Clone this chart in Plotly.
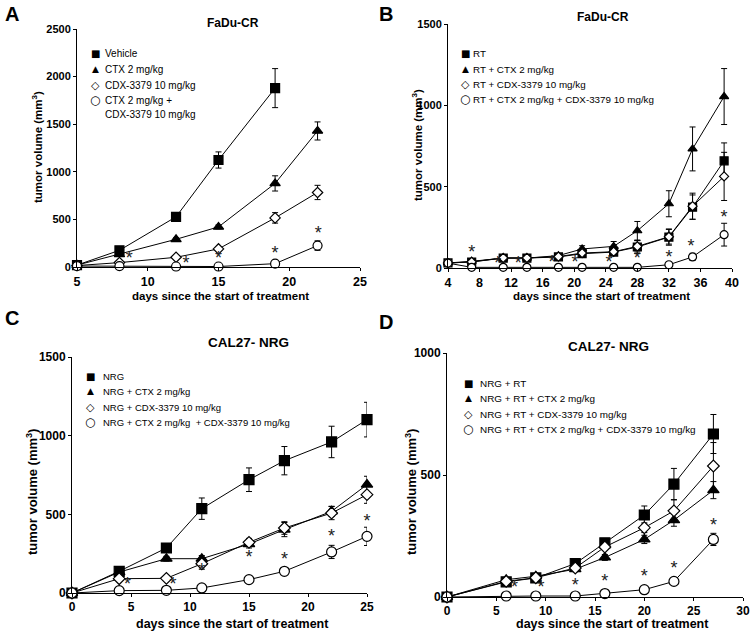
import plotly.graph_objects as go

W, H = 750, 634

# ---------------- data ----------------
A_days = [5, 8, 12, 15, 19, 22]
A_names = ["Vehicle", "CTX 2 mg/kg", "CDX-3379 10 mg/kg", "CTX 2 mg/kg +<br>CDX-3379 10 mg/kg"]
A_vehicle = [20, 175, 527, 1124, 1879]
A_vehicle_err = [5, 15, 20, 85, 205]
A_ctx = [20, 133, 291, 421, 878, 1429]
A_ctx_err = [5, 10, 15, 20, 80, 95]
A_cdx = [15, 46, 102, 190, 516, 783]
A_cdx_err = [3, 8, 10, 15, 55, 75]
A_combo = [10, 10, 5, 5, 35, 225]
A_combo_err = [2, 3, 2, 2, 8, 50]
A_star_x = [8.7, 12.7, 15.0, 19.0, 22.05]
A_star_y = [80, 30, 80, 135, 345]

B_days = [4, 7, 11, 14, 18, 21, 25, 28, 32, 35, 39]
B_names = ["RT", "RT + CTX 2 mg/kg", "RT + CDX-3379 10 mg/kg", "RT + CTX 2 mg/kg + CDX-3379 10 mg/kg"]
B_rt = [31, 37, 61, 61, 68, 88, 98, 129, 190, 374, 659]
B_rt_err = [5, 5, 5, 5, 8, 10, 12, 40, 50, 75, 110]
B_ctx = [31, 41, 61, 61, 76, 117, 133, 229, 395, 732, 1054]
B_ctx_err = [5, 5, 5, 5, 8, 20, 30, 57, 80, 135, 172]
B_cdx = [30, 38, 62, 62, 70, 92, 100, 133, 192, 380, 563]
B_cdx_err = [5, 5, 5, 5, 8, 10, 12, 35, 45, 80, 148]
B_combo = [30, 4, 4, 4, 4, 4, 4, 4, 20, 68, 205]
B_combo_err = [3, 2, 2, 2, 2, 2, 2, 2, 5, 22, 70]
B_star_x = [7, 10.3, 12.9, 17.2, 20.1, 24.4, 28, 32, 34.8, 39]
B_star_y = [92, 20, 20, 25, 25, 30, 51, 61, 123, 307]

C_days = [0, 4, 8, 11, 15, 18, 22, 25]
C_names = ["NRG", "NRG + CTX 2 mg/kg", "NRG + CDX-3379 10 mg/kg", "NRG + CTX 2 mg/kg  + CDX-3379 10 mg/kg"]
C_nrg = [0, 138, 286, 536, 720, 841, 960, 1102]
C_nrg_err = [0, 15, 25, 68, 75, 90, 100, 110]
C_ctx = [0, 133, 218, 218, 311, 403, 519, 689]
C_ctx_err = [0, 10, 15, 20, 25, 45, 32, 53]
C_cdx = [0, 91, 93, 186, 322, 413, 508, 625]
C_cdx_err = [0, 8, 10, 35, 25, 40, 42, 55]
C_combo = [0, 15, 17, 32, 85, 138, 261, 360]
C_combo_err = [0, 3, 3, 5, 8, 10, 42, 58]
C_star_x = [4.7, 8.56, 11, 15, 18, 22, 25]
C_star_y = [47, 47, 138, 218, 208, 350, 449]

D_days = [0, 6, 9, 13, 16, 20, 23, 27]
D_names = ["NRG + RT", "NRG + RT + CTX 2 mg/kg", "NRG + RT + CDX-3379 10 mg/kg",
           "NRG + RT + CTX 2 mg/kg + CDX-3379 10 mg/kg"]
D_rt = [0, 62, 78, 137, 222, 336, 463, 668]
D_rt_err = [0, 5, 8, 10, 15, 37, 64, 80]
D_ctx = [0, 71, 85, 114, 162, 236, 315, 438]
D_ctx_err = [0, 5, 8, 10, 12, 17, 25, 35]
D_cdx = [0, 64, 79, 119, 205, 284, 353, 537]
D_cdx_err = [0, 5, 8, 10, 12, 20, 45, 96]
D_combo = [0, 4, 4, 4, 14, 30, 64, 236]
D_combo_err = [0, 2, 2, 2, 3, 5, 8, 25]
D_star_x = [6.83, 9.54, 13, 16, 20, 23, 27]
D_star_y = [34, 34, 45, 58, 78, 112, 288]

X_TITLE = "days since the start of treatment"
Y_TITLE = "tumor volume (mm<sup>3</sup>)"

panels = [
    dict(letter="A", title="FaDu-CR", names=A_names,
         series=[(A_days[:len(A_vehicle)], A_vehicle, A_vehicle_err), (A_days, A_ctx, A_ctx_err),
                 (A_days, A_cdx, A_cdx_err), (A_days, A_combo, A_combo_err)],
         stars=(A_star_x, A_star_y), xr=[5, 25], xd=5, yr=[0, 2500], yd=500,
         box=(77, 360, 29, 267), big=False,
         title_pos=(233, 23), letter_pos=(3, 14), xt_pos=(220, 296), yt_pos=(37, 147),
         leg=dict(mx=95, tx=103, ys=[53, 69, 85, 100], fs=10)),
    dict(letter="B", title="FaDu-CR", names=B_names,
         series=[(B_days, B_rt, B_rt_err), (B_days, B_ctx, B_ctx_err),
                 (B_days, B_cdx, B_cdx_err), (B_days, B_combo, B_combo_err)],
         stars=(B_star_x, B_star_y), xr=[4, 40], xd=4, yr=[0, 1500], yd=500,
         box=(448, 732, 24, 268), big=False,
         title_pos=(603, 17), letter_pos=(377, 14), xt_pos=(601, 296), yt_pos=(417, 145),
         leg=dict(mx=465, tx=471, ys=[53, 69, 84, 99], fs=9.8)),
    dict(letter="C", title="CAL27- NRG", names=C_names,
         series=[(C_days, C_nrg, C_nrg_err), (C_days, C_ctx, C_ctx_err),
                 (C_days, C_cdx, C_cdx_err), (C_days, C_combo, C_combo_err)],
         stars=(C_star_x, C_star_y), xr=[0, 25], xd=5, yr=[0, 1500], yd=500,
         box=(72, 367, 357, 593), big=True,
         title_pos=(248, 342), letter_pos=(3, 318), xt_pos=(232, 624), yt_pos=(32, 492),
         leg=dict(mx=90, tx=101, ys=[376, 391, 407, 422], fs=9.5)),
    dict(letter="D", title="CAL27- NRG", names=D_names,
         series=[(D_days, D_rt, D_rt_err), (D_days, D_ctx, D_ctx_err),
                 (D_days, D_cdx, D_cdx_err), (D_days, D_combo, D_combo_err)],
         stars=(D_star_x, D_star_y), xr=[0, 30], xd=5, yr=[0, 1000], yd=500,
         box=(447, 743, 353, 597), big=True,
         title_pos=(608, 346), letter_pos=(377, 322), xt_pos=(612, 624), yt_pos=(411, 492),
         leg=dict(mx=468, tx=478, ys=[383, 398, 414, 429], fs=9.9)),
]

symbols = ["square", "triangle-up", "diamond", "circle"]
fills = ["black", "black", "white", "white"]
glyphs = ["\u25A0", "\u25B2", "\u25C7", "\u25CB"]
glyph_sizes = [10, 9, 11, 12]
FONT = "Liberation Sans, Arial, sans-serif"


def fx(x):
    return x / W


def fy(y):
    return 1 - y / H


fig = go.Figure()
layout = dict(width=W, height=H, margin=dict(l=0, r=0, t=0, b=0),
              paper_bgcolor="white", plot_bgcolor="white", showlegend=False,
              font=dict(family=FONT, color="black"))
annotations = []


def px_ann(text, x, y, size, weight="normal", xanchor="center", angle=0, family=FONT, color="black"):
    return dict(text=text, x=fx(x), y=fy(y), xref="paper", yref="paper", showarrow=False,
                xanchor=xanchor, yanchor="middle", textangle=angle,
                font=dict(family=family, size=size, weight=weight, color=color))


for i, p in enumerate(panels):
    k = i + 1
    xa = "x" if k == 1 else f"x{k}"
    ya = "y" if k == 1 else f"y{k}"
    x0, x1, y0, y1 = p["box"]
    big = p["big"]
    xtick_f = 12 if big else 12.5
    ytick_f = 12 if big else 11
    title_f = 12.5 if big else 11.5
    msz = 10 if big else 9
    if k == 2:
        msz = 8
    for j, (xs, ys, es) in enumerate(p["series"]):
        fig.add_trace(go.Scatter(
            x=xs, y=ys, name=p["names"][j], mode="lines+markers",
            xaxis=xa, yaxis=ya, cliponaxis=False,
            line=dict(color="black", width=1),
            marker=dict(symbol=symbols[j], size=msz if j != 2 else msz - 1, color=fills[j],
                        line=dict(color="black", width=1.2)),
            error_y=dict(type="data", array=es, visible=True, color="black",
                         thickness=1, width=3),
        ))
    sx, sy = p["stars"]
    fig.add_trace(go.Scatter(x=sx, y=sy, mode="text", text=["*"] * len(sx),
                             textposition="middle center", showlegend=False,
                             xaxis=xa, yaxis=ya, cliponaxis=False,
                             textfont=dict(family=FONT, size=18, color="#222")))
    axis_common = dict(showline=True, linecolor="black", linewidth=1, ticks="outside",
                       ticklen=3, tickcolor="black", showgrid=False, zeroline=False,
                       automargin=False)
    layout["xaxis" if k == 1 else f"xaxis{k}"] = dict(
        axis_common, domain=[fx(x0), min(fx(x1), 1)], range=p["xr"], dtick=p["xd"], anchor=ya,
        tickfont=dict(family=FONT, size=xtick_f, weight="bold", color="black"))
    layout["yaxis" if k == 1 else f"yaxis{k}"] = dict(
        axis_common, domain=[fy(y1), fy(y0)], range=p["yr"], dtick=p["yd"], anchor=xa,
        tickfont=dict(family=FONT, size=ytick_f, weight="bold", color="black"))

    annotations.append(px_ann(X_TITLE, *p["xt_pos"], title_f, "bold"))
    annotations.append(px_ann(Y_TITLE, *p["yt_pos"], title_f + (0.5 if big else 0), "bold", angle=-90))
    annotations.append(px_ann(p["title"], *p["title_pos"], title_f + (0.5 if not big else 1), "bold"))
    annotations.append(px_ann(p["letter"], *p["letter_pos"], 20, "bold", xanchor="left"))

    lg = p["leg"]
    for j, name in enumerate(p["names"]):
        annotations.append(px_ann(glyphs[j], lg["mx"], lg["ys"][j], glyph_sizes[j],
                                  family="DejaVu Sans"))
        lines = name.split("<br>")
        for li, ln in enumerate(lines):
            annotations.append(px_ann(ln, lg["tx"], lg["ys"][j] + li * 15, lg["fs"], xanchor="left"))

layout["annotations"] = annotations
fig.update_layout(**layout)
fig.write_html("out.html", config={"displayModeBar": False},
               post_script="document.body.style.margin='0px';")
